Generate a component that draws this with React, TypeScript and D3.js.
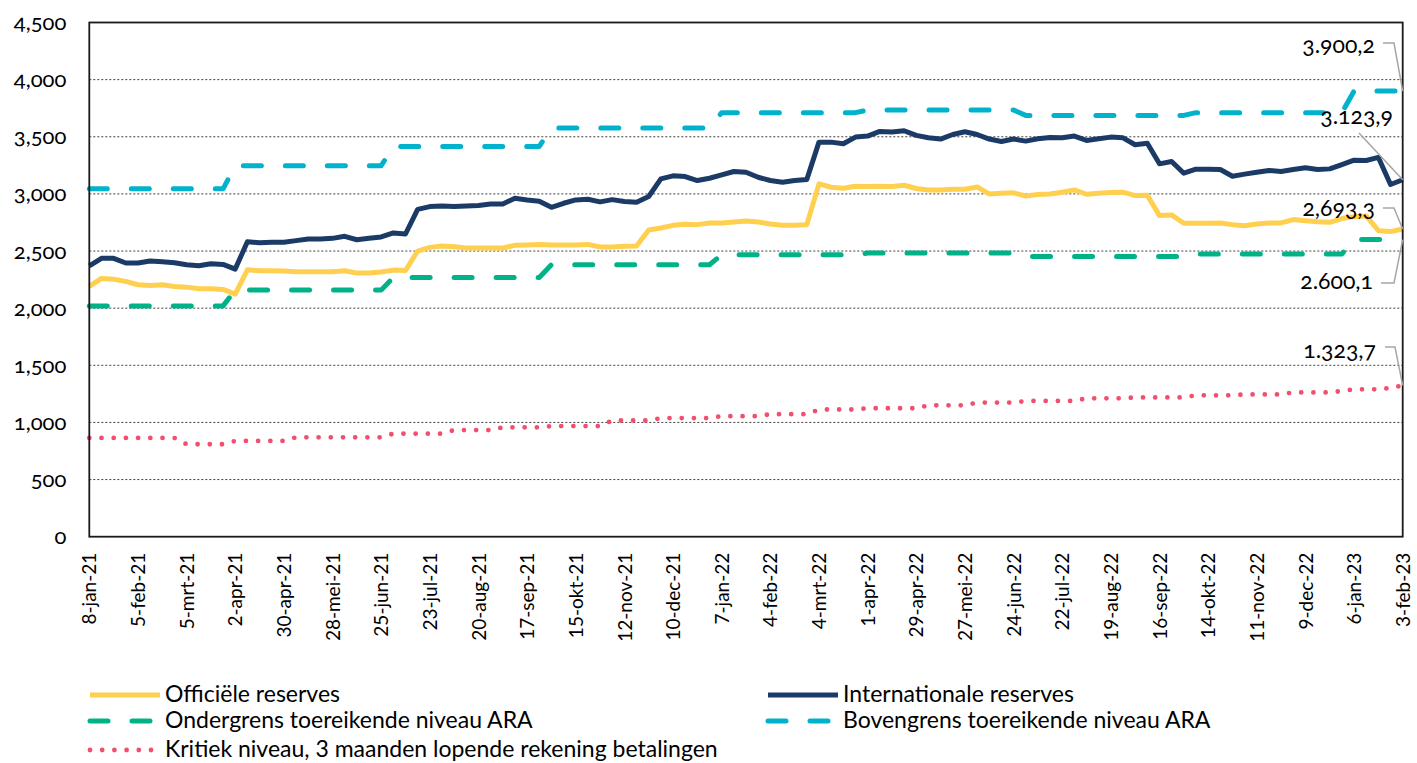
import { useEffect, useRef } from 'react';
import * as d3 from 'd3';

// weekly observations, 8-jan-21 .. 3-feb-23 (109 weeks)
const tickLabels = [
  '8-jan-21', '5-feb-21', '5-mrt-21', '2-apr-21', '30-apr-21', '28-mei-21', '25-jun-21',
  '23-jul-21', '20-aug-21', '17-sep-21', '15-okt-21', '12-nov-21', '10-dec-21', '7-jan-22',
  '4-feb-22', '4-mrt-22', '1-apr-22', '29-apr-22', '27-mei-22', '24-jun-22', '22-jul-22',
  '19-aug-22', '16-sep-22', '14-okt-22', '11-nov-22', '9-dec-22', '6-jan-23', '3-feb-23',
];

const officieleReserves = [
  2190, 2260, 2254, 2234, 2205, 2199, 2205, 2190, 2184, 2170, 2170, 2164, 2123,
  2336, 2327, 2327, 2325, 2319, 2319, 2319, 2319, 2327, 2307, 2307, 2316, 2333, 2330,
  2500, 2532, 2544, 2538, 2526, 2526, 2526, 2526, 2550, 2553, 2558, 2553, 2553, 2553,
  2558, 2535, 2535, 2541, 2544, 2684, 2702, 2725, 2734, 2731, 2746, 2746, 2754, 2763,
  2754, 2737, 2725, 2725, 2731, 3088, 3058, 3050, 3067, 3064, 3067, 3064, 3076, 3047,
  3035, 3035, 3041, 3041, 3061, 3000, 3006, 3009, 2982, 2994, 3000, 3015, 3035, 2997,
  3006, 3012, 3015, 2985, 2988, 2810, 2816, 2743, 2743, 2743, 2746, 2731, 2722, 2737,
  2746, 2746, 2775, 2766, 2757, 2751, 2784, 2801, 2807, 2678, 2670, 2693,
];

const internationaleReserves = [
  2371, 2436, 2436, 2395, 2395, 2412, 2406, 2398, 2380, 2371, 2389, 2383, 2342,
  2582, 2573, 2576, 2576, 2591, 2605, 2605, 2611, 2629, 2599, 2611, 2623, 2658, 2649,
  2865, 2889, 2895, 2889, 2895, 2898, 2912, 2912, 2962, 2947, 2936, 2883, 2918, 2947,
  2953, 2930, 2950, 2933, 2927, 2977, 3132, 3158, 3152, 3117, 3137, 3167, 3196, 3190,
  3146, 3117, 3102, 3117, 3126, 3453, 3453, 3439, 3497, 3506, 3547, 3541, 3553, 3512,
  3491, 3480, 3520, 3544, 3520, 3480, 3459, 3480, 3462, 3482, 3494, 3491, 3506, 3468,
  3482, 3497, 3491, 3430, 3444, 3263, 3284, 3181, 3216, 3216, 3213, 3155, 3173, 3190,
  3205, 3196, 3213, 3228, 3213, 3219, 3257, 3295, 3292, 3319, 3082, 3124,
];

const ondergrensARA = [
  2020, 2020, 2020, 2020, 2020, 2020, 2020, 2020, 2020, 2020, 2020, 2020,
  2158, 2158, 2158, 2158, 2158, 2158, 2158, 2158, 2158, 2158, 2158, 2158, 2158,
  2269, 2269, 2269, 2269, 2269, 2269, 2269, 2269, 2269, 2269, 2269, 2269, 2269,
  2380, 2380, 2380, 2380, 2380, 2380, 2380, 2380, 2380, 2380, 2380, 2380, 2380, 2380,
  2468, 2468, 2468, 2468, 2468, 2468, 2468, 2468, 2468, 2468, 2468, 2468,
  2482, 2482, 2482, 2482, 2482, 2482, 2482, 2482, 2482, 2482, 2482, 2482, 2482,
  2453, 2453, 2453, 2453, 2453, 2453, 2453, 2453, 2453, 2453, 2453, 2453, 2453, 2453,
  2474, 2474, 2474, 2474, 2474, 2474, 2474, 2474, 2474, 2474, 2474, 2474, 2474,
  2600, 2600, 2600, 2600, 2600,
];

const bovengrensARA = [
  3044, 3044, 3044, 3044, 3044, 3044, 3044, 3044, 3044, 3044, 3044, 3044,
  3246, 3246, 3246, 3246, 3246, 3246, 3246, 3246, 3246, 3246, 3246, 3246, 3246,
  3415, 3415, 3415, 3415, 3415, 3415, 3415, 3415, 3415, 3415, 3415, 3415, 3415,
  3576, 3576, 3576, 3576, 3576, 3576, 3576, 3576, 3576, 3576, 3576, 3576, 3576, 3576,
  3711, 3711, 3711, 3711, 3711, 3711, 3711, 3711, 3711, 3711, 3711, 3711,
  3734, 3734, 3734, 3734, 3734, 3734, 3734, 3734, 3734, 3734, 3734, 3734, 3734,
  3687, 3687, 3687, 3687, 3687, 3687, 3687, 3687, 3687, 3687, 3687, 3687, 3687, 3687,
  3711, 3711, 3711, 3711, 3711, 3711, 3711, 3711, 3711, 3711, 3711, 3711, 3711,
  3900, 3900, 3900, 3900, 3900,
];

const kritiekNiveau = [
  864, 864, 864, 864, 864, 864, 864, 864, 809, 809, 809, 809,
  838, 838, 838, 838, 838, 870, 870, 870, 870, 870, 870, 870, 870,
  902, 902, 902, 902, 902, 933, 933, 933, 933, 957, 957, 957, 957,
  968, 968, 968, 968, 968, 1017, 1017, 1017, 1017, 1038, 1038, 1038, 1038, 1038,
  1055, 1055, 1055, 1055, 1072, 1072, 1072, 1072, 1113, 1113, 1113, 1113,
  1124, 1124, 1124, 1124, 1124, 1150, 1150, 1150, 1150, 1174, 1174, 1174, 1174,
  1188, 1188, 1188, 1188, 1188, 1211, 1211, 1211, 1211, 1219, 1219, 1219, 1219, 1219,
  1237, 1237, 1237, 1237, 1245, 1245, 1245, 1245, 1263, 1263, 1263, 1263,
  1275, 1290, 1290, 1290, 1301, 1324,
];

const yTicks = [0, 500, 1000, 1500, 2000, 2500, 3000, 3500, 4000, 4500];

const FONT = 'Lato, "Open Sans", sans-serif';

const App = () => {
  const svgRef = useRef<SVGSVGElement>(null);

  useEffect(() => {
    const svg = d3.select(svgRef.current);
    svg.selectAll('*').remove();

    const left = 89.3;
    const right = 1402.7;
    const top = 22.5;
    const bottom = 536.7;

    const n = officieleReserves.length;
    const xScale = d3.scaleLinear().domain([0, n - 1]).range([left, right]);
    const yScale = d3.scaleLinear().domain([0, 4500]).range([bottom, top]);

    // gridlines
    svg
      .append('g')
      .selectAll('line')
      .data(yTicks.filter((t) => t > 0 && t < 4500))
      .enter()
      .append('line')
      .attr('x1', left)
      .attr('x2', right)
      .attr('y1', (d) => yScale(d))
      .attr('y2', (d) => yScale(d))
      .attr('stroke', '#404040')
      .attr('stroke-width', 1)
      .attr('stroke-dasharray', '2 2');

    const series = [
      { name: 'Kritiek niveau, 3 maanden lopende rekening betalingen', values: kritiekNiveau, color: '#f0506e', dash: '0 12.2', width: 4.8 },
      { name: 'Ondergrens toereikende niveau ARA', values: ondergrensARA, color: '#00b287', dash: '18 24', width: 5 },
      { name: 'Bovengrens toereikende niveau ARA', values: bovengrensARA, color: '#00b2cb', dash: '18 24', width: 5 },
      { name: 'Officiële reserves', values: officieleReserves, color: '#ffd04f', dash: null, width: 5 },
      { name: 'Internationale reserves', values: internationaleReserves, color: '#1b3b66', dash: null, width: 5 },
    ];

    const line = d3
      .line<number>()
      .x((_, i) => xScale(i))
      .y((d) => yScale(d));

    svg
      .append('g')
      .selectAll('path')
      .data(series)
      .enter()
      .append('path')
      .attr('d', (s) => line(s.values))
      .attr('fill', 'none')
      .attr('stroke', (s) => s.color)
      .attr('stroke-width', (s) => s.width)
      .attr('stroke-linecap', (s) => (s.dash ? 'round' : 'butt'))
      .attr('stroke-linejoin', 'round')
      .attr('stroke-dasharray', (s) => s.dash);

    // plot frame
    svg
      .append('rect')
      .attr('x', left)
      .attr('y', top)
      .attr('width', right - left)
      .attr('height', bottom - top)
      .attr('fill', 'none')
      .attr('stroke', '#1a1a1a')
      .attr('stroke-width', 1.8);

    // y axis
    const yAxis = d3
      .axisLeft(yScale)
      .tickValues(yTicks)
      .tickFormat(d3.format(','))
      .tickSize(0)
      .tickPadding(23);

    svg
      .append('g')
      .attr('transform', `translate(${left},0)`)
      .call(yAxis)
      .selectAll('text')
      .style('font-family', FONT)
      .style('font-size', '22px')
      .style('font-variant-numeric', 'oldstyle-nums')
      .attr('fill', '#000');

    // x axis
    const xAxis = d3
      .axisBottom(xScale)
      .tickValues(d3.range(0, n, 4))
      .tickFormat((d) => tickLabels[Math.round(+d / 4)])
      .tickSize(0);

    svg
      .append('g')
      .attr('transform', `translate(0,${bottom})`)
      .call(xAxis)
      .selectAll('text')
      .attr('transform', 'rotate(-90)')
      .attr('x', -16)
      .attr('y', 0)
      .attr('dy', '0.35em')
      .style('text-anchor', 'end')
      .style('font-family', FONT)
      .style('font-size', '19px')
      .attr('fill', '#000');

    svg.selectAll('.domain').remove();

    // end-value labels with leader lines
    const last = n - 1;
    const annotations = [
      { text: '3.900,2', value: bovengrensARA[last], tx: 1375, ty: 47, leader: [[1383, 43], [1394, 43]] },
      { text: '3.123,9', value: internationaleReserves[last], tx: 1393, ty: 118, leader: [[1359, 133]] },
      { text: '2,693,3', value: officieleReserves[last], tx: 1375, ty: 210, leader: [[1383, 208], [1394, 208]] },
      { text: '2.600,1', value: ondergrensARA[last], tx: 1373, ty: 283, leader: [[1381, 283], [1394, 283]] },
      { text: '1.323,7', value: kritiekNiveau[last], tx: 1376, ty: 352, leader: [[1385, 347], [1395, 347]] },
    ];

    const ann = svg.append('g');
    annotations.forEach((a) => {
      const pts = [...a.leader, [xScale(last), yScale(a.value)]] as [number, number][];
      ann
        .append('path')
        .attr('d', d3.line()(pts))
        .attr('fill', 'none')
        .attr('stroke', '#a6a6a6')
        .attr('stroke-width', 1.5);
      ann
        .append('text')
        .attr('x', a.tx)
        .attr('y', a.ty)
        .attr('dominant-baseline', 'middle')
        .attr('text-anchor', 'end')
        .style('font-family', FONT)
        .style('font-size', '23px')
        .style('font-variant-numeric', 'oldstyle-nums')
        .attr('fill', '#000')
        .text(a.text);
    });

    // legend
    const legendItems = [
      { s: series[3], x: 90, y: 695 },
      { s: series[4], x: 768, y: 695 },
      { s: series[1], x: 90, y: 721 },
      { s: series[2], x: 768, y: 721 },
      { s: series[0], x: 90, y: 750 },
    ];
    const legend = svg.append('g');
    legendItems.forEach(({ s, x, y }) => {
      legend
        .append('line')
        .attr('x1', x)
        .attr('x2', x + 70)
        .attr('y1', y)
        .attr('y2', y)
        .attr('stroke', s.color)
        .attr('stroke-width', s.width)
        .attr('stroke-linecap', s.dash ? 'round' : 'butt')
        .attr('stroke-dasharray', s.dash);
      legend
        .append('text')
        .attr('x', x + 75)
        .attr('y', y + 1)
        .attr('dominant-baseline', 'middle')
        .style('font-family', FONT)
        .style('font-size', '23px')
        .attr('fill', '#000')
        .text(s.name);
    });
  }, []);

  return (
    <div style={{ position: 'absolute', left: 0, top: 0 }}>
      <svg ref={svgRef} width="1417" height="763"></svg>
    </div>
  );
};

export default App;
